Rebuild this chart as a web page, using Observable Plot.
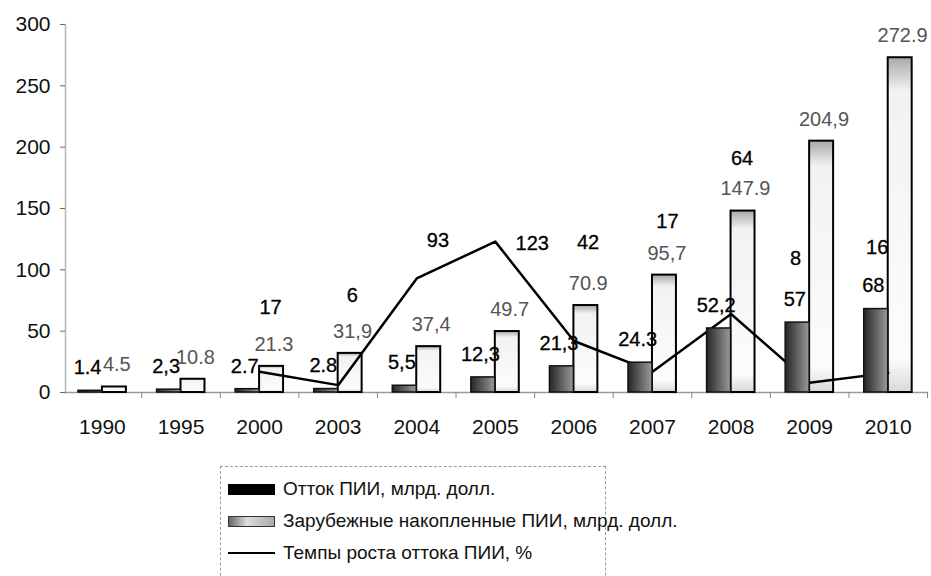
<!DOCTYPE html>
<html><head><meta charset="utf-8">
<script src="https://cdn.jsdelivr.net/npm/d3@7"></script>
<script src="https://cdn.jsdelivr.net/npm/@observablehq/plot@0.6"></script>
<style>
body{margin:0;background:#fff;font-family:"Liberation Sans",Arial,sans-serif;}
#chart{position:relative;width:931px;height:576px;overflow:hidden;background:#fff;}
.legend{position:absolute;left:220px;top:466px;width:386px;height:130px;border:1px dashed #9a9a9a;box-sizing:border-box;}
.row{position:absolute;left:7px;height:22px;display:flex;align-items:center;font-size:19px;color:#111;white-space:nowrap;}
.sw{width:47px;height:11px;margin-right:8px;box-sizing:border-box;}
</style></head><body><div id="chart"></div>
<script>
// ---- data ----
const years = ["1990","1995","2000","2003","2004","2005","2006","2007","2008","2009","2010"];
const outflow = [1.4, 2.3, 2.7, 2.8, 5.5, 12.3, 21.3, 24.3, 52.2, 57, 68];
const outflowLabels = ["1.4","2,3","2.7","2.8","5,5","12,3","21,3","24.3","52,2","57","68"];
const accumulated = [4.5, 10.8, 21.3, 31.9, 37.4, 49.7, 70.9, 95.7, 147.9, 204.9, 272.9];
const accumulatedLabels = ["4.5","10.8","21.3","31,9","37,4","49.7","70.9","95,7","147.9","204,9","272.9"];
const growth = [null, null, 17, 6, 93, 123, 42, 17, 64, 8, 16];
const growthLabels = ["", "", "17", "6", "93", "123", "42", "17", "64", "8", "16"];
const yTicks = [0, 50, 100, 150, 200, 250, 300];
const legendLabels = ["Отток ПИИ, млрд. долл.", "Зарубежные накопленные ПИИ, млрд. долл.", "Темпы роста оттока ПИИ, %"];

// ---- annotation placement of the growth labels (as placed in the original) ----
const growthLabelAt = [null, null, 69, 79, 124, 121, 122, 139, 191, 109, 118];
const growthLabelShift = [0, 0, 0.14, 0.18, 0.27, 0.47, 0.18, 0.19, 0.14, -0.18, -0.14];

const rows = years.map((y, i) => ({
  i, year: y,
  outflow: outflow[i], outflowLabel: outflowLabels[i],
  accumulated: accumulated[i], accumulatedLabel: accumulatedLabels[i],
  growth: growth[i], growthLabel: growthLabels[i],
  gAt: growthLabelAt[i], gShift: growthLabelShift[i]
}));
const idx = rows.map(d => d.i);
const barW = 0.305;
const font = "Liberation Sans, Arial, sans-serif";

const svg = Plot.plot({
  width: 931, height: 450,
  marginLeft: 65, marginRight: 4, marginTop: 24, marginBottom: 58,
  x: {domain: [-0.47, 10.5], axis: null, label: null},
  y: {domain: [0, 300], axis: null, label: null},
  style: {fontFamily: font, background: "white", color: "#111"},
  marks: [
    Plot.frame({anchor: "left", stroke: "#b5b5b5", strokeWidth: 1.5}),
    Plot.frame({anchor: "bottom", stroke: "#9a9a9a", strokeWidth: 1.5}),
    Plot.axisY({ticks: yTicks, label: null, tickSize: 5, tickPadding: 10, fontSize: 21, stroke: "#666", fill: "#111"}),
    Plot.axisX({ticks: idx, label: null, tickFormat: i => years[i], tickSize: 0, tickPadding: 27, fontSize: 21, fill: "#111"}),
    Plot.axisX({ticks: idx.map(i => i + 0.5), label: null, tickFormat: () => "", tickSize: 6, stroke: "#888"}),
    Plot.rect(rows, {x1: d => d.i, x2: d => d.i + barW, y1: d => 0, y2: "accumulated",
      fill: "url(#gLight)", stroke: "#000", strokeWidth: 2}),
    Plot.line(rows.filter(d => d.growth != null), {x: "i", y: "growth", stroke: "#000", strokeWidth: 2.5}),
    Plot.rect(rows, {x1: d => d.i - barW, x2: d => d.i, y1: d => 0, y2: "outflow",
      fill: "url(#gDark)", stroke: "#111", strokeWidth: 1.5}),
    Plot.text(rows, {x: d => d.i - barW * 0.62, y: "outflow", text: "outflowLabel", dy: -23,
      fontSize: 20, fill: "#000", stroke: "#000", strokeWidth: 0.3}),
    Plot.text(rows, {x: d => d.i + barW * 0.6, y: "accumulated", text: "accumulatedLabel", dy: -22,
      fontSize: 20, fill: "#555"}),
    Plot.text(rows.filter(d => d.growth != null), {x: d => d.i + d.gShift, y: "gAt", text: "growthLabel",
      fontSize: 20, fill: "#000", stroke: "#000", strokeWidth: 0.3})
  ]
});

const defs = d3.select(svg).insert("defs", ":first-child");
const gd = defs.append("linearGradient").attr("id", "gDark").attr("x1", 0).attr("x2", 1).attr("y1", 0).attr("y2", 0);
gd.append("stop").attr("offset", "0%").attr("stop-color", "#262626");
gd.append("stop").attr("offset", "100%").attr("stop-color", "#9a9a9a");
const gl = defs.append("linearGradient").attr("id", "gLight").attr("x1", 0).attr("x2", 0).attr("y1", 0).attr("y2", 1);
gl.append("stop").attr("offset", "0%").attr("stop-color", "#a8a8a8");
gl.append("stop").attr("offset", "10%").attr("stop-color", "#f2f2f2");
gl.append("stop").attr("offset", "90%").attr("stop-color", "#fcfcfc");
gl.append("stop").attr("offset", "100%").attr("stop-color", "#d8d8d8");

const chart = document.getElementById("chart");
chart.appendChild(svg);

// legend
const lg = d3.select(chart).append("div").attr("class", "legend");
const swatches = [
  s => s.style("background", "#000"),
  s => s.style("background", "linear-gradient(90deg,#666,#ddd 40%,#aaa)").style("border", "1.5px solid #333"),
  s => s.style("height", "2px").style("background", "#000")
];
legendLabels.forEach((t, k) => {
  const r = lg.append("div").attr("class", "row").style("top", (11 + k * 32) + "px");
  swatches[k](r.append("div").attr("class", "sw"));
  r.append("span").text(t);
});
</script>
</body></html>
